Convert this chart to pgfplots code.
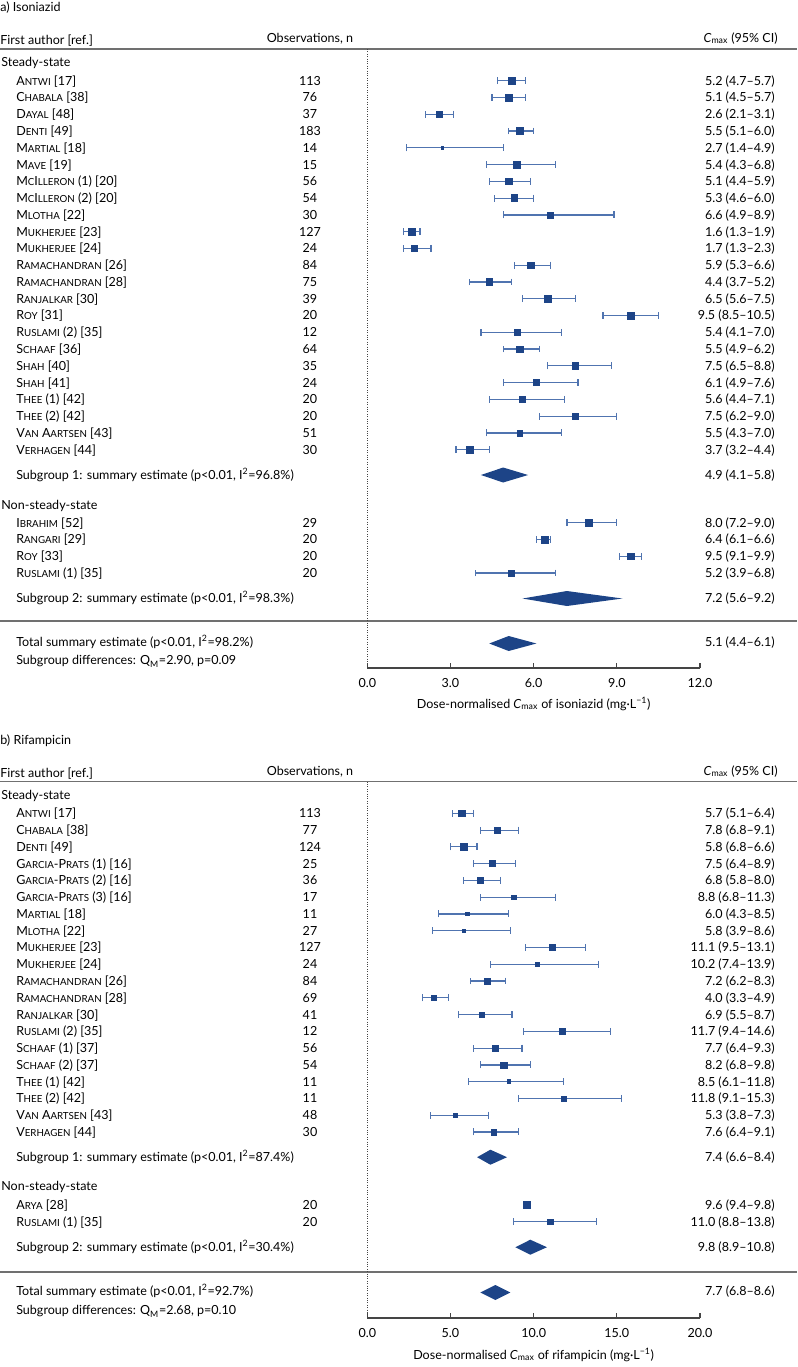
\documentclass[border=0pt]{standalone}
\usepackage{fontspec}
\setmainfont{Lato}
\usepackage{pgfplots}
\pgfplotsset{compat=1.18}
\usepackage{pgfplotstable}

\definecolor{sq}{HTML}{1D4487}
\definecolor{eb}{HTML}{5074B0}
\definecolor{sepc}{HTML}{707070}
\definecolor{axl}{HTML}{454545}

\newcommand\SC[1]{{\fontsize{7.3}{8}\selectfont\MakeUppercase{#1}}}
\tikzset{
  tl/.style={anchor=base west, inner sep=0pt, yshift=-3.3pt},
  tc/.style={anchor=base, inner sep=0pt, yshift=-3.3pt},
  tr/.style={anchor=base east, inner sep=0pt, yshift=-3.3pt}}

% panel a: isoniazid (y = row position, est, 95% CI, square side)
\pgfplotstableread{
y est lo hi s
-80.7 5.2 4.7 5.7 7
-97.5 5.1 4.5 5.7 7
-114.2 2.6 2.1 3.1 7
-131.0 5.5 5.1 6.0 7
-147.8 2.7 1.4 4.9 2.5
-164.6 5.4 4.3 6.8 7
-181.3 5.1 4.4 5.9 7
-198.1 5.3 4.6 6.0 7
-214.9 6.6 4.9 8.9 6
-231.6 1.6 1.3 1.9 7
-248.4 1.7 1.3 2.3 6
-265.2 5.9 5.3 6.6 7
-282.0 4.4 3.7 5.2 7
-298.7 6.5 5.6 7.5 7
-315.5 9.5 8.5 10.5 7.5
-332.3 5.4 4.1 7.0 6
-349.0 5.5 4.9 6.2 6.5
-365.8 7.5 6.5 8.8 7
-382.6 6.1 4.9 7.6 6.5
-399.4 5.6 4.4 7.1 6
-416.1 7.5 6.2 9.0 6.5
-432.9 5.5 4.3 7.0 6
-449.7 3.7 3.2 4.4 6.5
-522.7 8.0 7.2 9.0 7
-539.5 6.4 6.1 6.6 7
-556.3 9.5 9.1 9.9 7
-573.0 5.2 3.9 6.8 6
}\isoA

% panel b: rifampicin
\pgfplotstableread{
y est lo hi s
-813.3 5.7 5.1 6.4 7
-830.1 7.8 6.8 9.1 6.5
-846.8 5.8 5.0 6.6 6.5
-863.6 7.5 6.4 8.9 6
-880.4 6.8 5.8 8.0 6.5
-897.2 8.8 6.8 11.3 5
-913.9 6.0 4.3 8.5 3.5
-930.7 5.8 3.9 8.6 3
-947.5 11.1 9.5 13.1 6.5
-964.2 10.2 7.4 13.9 4
-981.0 7.2 6.2 8.3 6.5
-997.8 4.0 3.3 4.9 6
-1014.6 6.9 5.5 8.7 5.5
-1031.3 11.7 9.4 14.6 6
-1048.1 7.7 6.4 9.3 6.5
-1064.9 8.2 6.8 9.8 6.5
-1081.6 8.5 6.1 11.8 4
-1098.4 11.8 9.1 15.3 5
-1115.2 5.3 3.8 7.3 4.5
-1131.9 7.6 6.4 9.1 6
-1204.9 9.6 9.4 9.8 7.5
-1221.7 11.0 8.8 13.8 6
}\rifB

\newcommand\RA[4]{\node[tl] at (axis cs:-12.671,#1) {#2};
  \node[tc] at (axis cs:-2.068,#1) {#3};
  \node[tr] at (axis cs:14.705,#1) {#4};}
\newcommand\RB[4]{\node[tl] at (axis cs:-21.118,#1) {#2};
  \node[tc] at (axis cs:-3.445,#1) {#3};
  \node[tr] at (axis cs:24.51,#1) {#4};}

\pgfplotsset{
  fp/.style={
    scale only axis, clip=false, width=249.5pt,
    axis x line=bottom, axis y line=none, ytick=\empty,
    axis line style={-, axl, line width=0.8pt},
    every outer x axis line/.append style={-},
    tick align=inside, major tick length=3.75pt,
    xtick style={axl, line width=0.8pt},
    xticklabel style={yshift=-4pt},
  },
  ebar/.style={draw=none, mark=none, forget plot,
    error bars/.cd, x dir=both, x explicit, error mark=|,
    error bar style={draw=eb, line width=0.9pt},
    error mark options={draw=eb, mark size=2.6pt, line width=0.9pt}},
  sqm/.style={scatter, only marks, mark=square*, forget plot,
    visualization depends on={\thisrow{s}\as\ms},
    scatter/use mapped color={draw=sq, fill=sq},
    scatter/@pre marker code/.append style={/tikz/mark size=0.36pt*\ms}},
}

\begin{document}
\begin{tikzpicture}[font=\fontsize{9.4}{11.5}\selectfont]
% ---------------- panel a ----------------
\begin{axis}[fp, at={(275.475pt,-501pt)}, anchor=south west,
  height=464.25pt, xmin=0, xmax=12, ymin=-668, ymax=-49,
  xtick={0,3,6,9,12}, xticklabels={0.0,3.0,6.0,9.0,12.0}]
\addplot[sepc, line width=1.1pt, forget plot] coordinates {(-13.248,-49) (15.498,-49)};
\addplot[sepc, line width=1.1pt, forget plot] coordinates {(-13.248,-621) (15.498,-621)};
\addplot[axl, densely dotted, line width=0.8pt, forget plot] coordinates {(0,-49) (0,-668)};
\addplot[ebar] table[x=est, y=y, x error plus expr=\thisrow{hi}-\thisrow{est}, x error minus expr=\thisrow{est}-\thisrow{lo}] {\isoA};
\addplot[sqm] table[x=est, y=y] {\isoA};
\addplot[fill=sq, draw=none, forget plot] coordinates {(4.1,-475) (4.9,-467.5) (5.8,-475) (4.9,-482.5)} --cycle;
\addplot[fill=sq, draw=none, forget plot] coordinates {(5.6,-598.5) (7.2,-591) (9.2,-598.5) (7.2,-606)} --cycle;
\addplot[fill=sq, draw=none, forget plot] coordinates {(4.4,-643.5) (5.1,-636) (6.1,-643.5) (5.1,-651)} --cycle;

\node[tl] at (axis cs:-13.248,-7) {a) Isoniazid};
\node[tl] at (axis cs:-13.248,-40) {First author [ref.]};
\node[tc] at (axis cs:-2.068,-38) {Observations, n};
\node[tr] at (axis cs:14.813,-38) {\textit{C}\textsubscript{max} (95\% CI)};
\node[tl] at (axis cs:-13.21,-62) {Steady-state};
\RA{-80.7}{A\SC{ntwi} [17]}{113}{5.2 (4.7--5.7)}
\RA{-97.5}{C\SC{habala} [38]}{76}{5.1 (4.5--5.7)}
\RA{-114.2}{D\SC{ayal} [48]}{37}{2.6 (2.1--3.1)}
\RA{-131.0}{D\SC{enti} [49]}{183}{5.5 (5.1--6.0)}
\RA{-147.8}{M\SC{artial} [18]}{14}{2.7 (1.4--4.9)}
\RA{-164.6}{M\SC{ave} [19]}{15}{5.4 (4.3--6.8)}
\RA{-181.3}{M\SC{c}I\SC{lleron} (1) [20]}{56}{5.1 (4.4--5.9)}
\RA{-198.1}{M\SC{c}I\SC{lleron} (2) [20]}{54}{5.3 (4.6--6.0)}
\RA{-214.9}{M\SC{lotha} [22]}{30}{6.6 (4.9--8.9)}
\RA{-231.6}{M\SC{ukherjee} [23]}{127}{1.6 (1.3--1.9)}
\RA{-248.4}{M\SC{ukherjee} [24]}{24}{1.7 (1.3--2.3)}
\RA{-265.2}{R\SC{amachandran} [26]}{84}{5.9 (5.3--6.6)}
\RA{-282.0}{R\SC{amachandran} [28]}{75}{4.4 (3.7--5.2)}
\RA{-298.7}{R\SC{anjalkar} [30]}{39}{6.5 (5.6--7.5)}
\RA{-315.5}{R\SC{oy} [31]}{20}{9.5 (8.5--10.5)}
\RA{-332.3}{R\SC{uslami} (2) [35]}{12}{5.4 (4.1--7.0)}
\RA{-349.0}{S\SC{chaaf} [36]}{64}{5.5 (4.9--6.2)}
\RA{-365.8}{S\SC{hah} [40]}{35}{7.5 (6.5--8.8)}
\RA{-382.6}{S\SC{hah} [41]}{24}{6.1 (4.9--7.6)}
\RA{-399.4}{T\SC{hee} (1) [42]}{20}{5.6 (4.4--7.1)}
\RA{-416.1}{T\SC{hee} (2) [42]}{20}{7.5 (6.2--9.0)}
\RA{-432.9}{V\SC{an} A\SC{artsen} [43]}{51}{5.5 (4.3--7.0)}
\RA{-449.7}{V\SC{erhagen} [44]}{30}{3.7 (3.2--4.4)}
\RA{-475}{Subgroup 1: summary estimate (p<0.01, I\textsuperscript{2}=96.8\%)}{}{4.9 (4.1--5.8)}
\node[tl] at (axis cs:-13.21,-505) {Non-steady-state};
\RA{-522.7}{I\SC{brahim} [52]}{29}{8.0 (7.2--9.0)}
\RA{-539.5}{R\SC{angari} [29]}{20}{6.4 (6.1--6.6)}
\RA{-556.3}{R\SC{oy} [33]}{20}{9.5 (9.1--9.9)}
\RA{-573.0}{R\SC{uslami} (1) [35]}{20}{5.2 (3.9--6.8)}
\RA{-598.5}{Subgroup 2: summary estimate (p<0.01, I\textsuperscript{2}=98.3\%)}{}{7.2 (5.6--9.2)}
\RA{-642.5}{Total summary estimate (p<0.01, I\textsuperscript{2}=98.2\%)}{}{5.1 (4.4--6.1)}
\RA{-660.5}{Subgroup differences: Q\textsubscript{M}=2.90, p=0.09}{}{}
\node[tc] at (axis cs:6,-704) {Dose-normalised \textit{C}\textsubscript{max} of isoniazid (mg·L\textsuperscript{\textminus1})};
\end{axis}

% ---------------- panel b ----------------
\begin{axis}[fp, at={(275.475pt,-988.5pt)}, anchor=south west,
  height=402.3pt, xmin=0, xmax=20, ymin=-1318, ymax=-781.6,
  xtick={0,5,10,15,20}, xticklabels={0.0,5.0,10.0,15.0,20.0}]
\addplot[sepc, line width=1.1pt, forget plot] coordinates {(-22.08,-781.6) (25.83,-781.6)};
\addplot[sepc, line width=1.1pt, forget plot] coordinates {(-22.08,-1272) (25.83,-1272)};
\addplot[axl, densely dotted, line width=0.8pt, forget plot] coordinates {(0,-781.6) (0,-1318)};
\addplot[ebar] table[x=est, y=y, x error plus expr=\thisrow{hi}-\thisrow{est}, x error minus expr=\thisrow{est}-\thisrow{lo}] {\rifB};
\addplot[sqm] table[x=est, y=y] {\rifB};
\addplot[fill=sq, draw=none, forget plot] coordinates {(6.6,-1157.2) (7.4,-1149.7) (8.4,-1157.2) (7.4,-1164.7)} --cycle;
\addplot[fill=sq, draw=none, forget plot] coordinates {(8.9,-1247.2) (9.8,-1239.7) (10.8,-1247.2) (9.8,-1254.7)} --cycle;
\addplot[fill=sq, draw=none, forget plot] coordinates {(6.8,-1292.5) (7.7,-1285) (8.6,-1292.5) (7.7,-1300)} --cycle;

\node[tl] at (axis cs:-22.08,-739.6) {b) Rifampicin};
\node[tl] at (axis cs:-22.08,-772.6) {First author [ref.]};
\node[tc] at (axis cs:-3.445,-770.6) {Observations, n};
\node[tr] at (axis cs:24.69,-770.6) {\textit{C}\textsubscript{max} (95\% CI)};
\node[tl] at (axis cs:-22.02,-794.6) {Steady-state};
\RB{-813.3}{A\SC{ntwi} [17]}{113}{5.7 (5.1--6.4)}
\RB{-830.1}{C\SC{habala} [38]}{77}{7.8 (6.8--9.1)}
\RB{-846.8}{D\SC{enti} [49]}{124}{5.8 (6.8--6.6)}
\RB{-863.6}{G\SC{arcia}-P\SC{rats} (1) [16]}{25}{7.5 (6.4--8.9)}
\RB{-880.4}{G\SC{arcia}-P\SC{rats} (2) [16]}{36}{6.8 (5.8--8.0)}
\RB{-897.2}{G\SC{arcia}-P\SC{rats} (3) [16]}{17}{8.8 (6.8--11.3)}
\RB{-913.9}{M\SC{artial} [18]}{11}{6.0 (4.3--8.5)}
\RB{-930.7}{M\SC{lotha} [22]}{27}{5.8 (3.9--8.6)}
\RB{-947.5}{M\SC{ukherjee} [23]}{127}{11.1 (9.5--13.1)}
\RB{-964.2}{M\SC{ukherjee} [24]}{24}{10.2 (7.4--13.9)}
\RB{-981.0}{R\SC{amachandran} [26]}{84}{7.2 (6.2--8.3)}
\RB{-997.8}{R\SC{amachandran} [28]}{69}{4.0 (3.3--4.9)}
\RB{-1014.6}{R\SC{anjalkar} [30]}{41}{6.9 (5.5--8.7)}
\RB{-1031.3}{R\SC{uslami} (2) [35]}{12}{11.7 (9.4--14.6)}
\RB{-1048.1}{S\SC{chaaf} (1) [37]}{56}{7.7 (6.4--9.3)}
\RB{-1064.9}{S\SC{chaaf} (2) [37]}{54}{8.2 (6.8--9.8)}
\RB{-1081.6}{T\SC{hee} (1) [42]}{11}{8.5 (6.1--11.8)}
\RB{-1098.4}{T\SC{hee} (2) [42]}{11}{11.8 (9.1--15.3)}
\RB{-1115.2}{V\SC{an} A\SC{artsen} [43]}{48}{5.3 (3.8--7.3)}
\RB{-1131.9}{V\SC{erhagen} [44]}{30}{7.6 (6.4--9.1)}
\RB{-1157.2}{Subgroup 1: summary estimate (p<0.01, I\textsuperscript{2}=87.4\%)}{}{7.4 (6.6--8.4)}
\node[tl] at (axis cs:-22.02,-1186) {Non-steady-state};
\RB{-1204.9}{A\SC{rya} [28]}{20}{9.6 (9.4--9.8)}
\RB{-1221.7}{R\SC{uslami} (1) [35]}{20}{11.0 (8.8--13.8)}
\RB{-1247.2}{Subgroup 2: summary estimate (p<0.01, I\textsuperscript{2}=30.4\%)}{}{9.8 (8.9--10.8)}
\RB{-1291.5}{Total summary estimate (p<0.01, I\textsuperscript{2}=92.7\%)}{}{7.7 (6.8--8.6)}
\RB{-1310.5}{Subgroup differences: Q\textsubscript{M}=2.68, p=0.10}{}{}
\node[tc] at (axis cs:10,-1355) {Dose-normalised \textit{C}\textsubscript{max} of rifampicin (mg·L\textsuperscript{\textminus1})};
\end{axis}
\pgfresetboundingbox
\path[use as bounding box] (0,0) rectangle (597.75pt,-1025.25pt);
\end{tikzpicture}
\end{document}
